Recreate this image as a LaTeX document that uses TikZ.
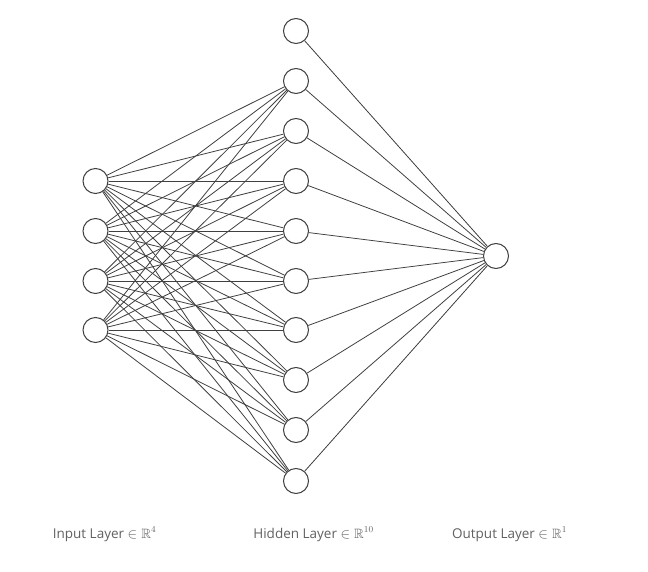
\documentclass[tikz,border=0pt]{standalone}
\usepackage{amssymb}
\usepackage{fontspec}
\setmainfont{Open Sans}
\begin{document}
\begin{tikzpicture}[x=1pt,y=-1pt,
  neuron/.style={circle,draw=black!75,line width=1pt,fill=white,minimum size=25pt,inner sep=0pt},
  conn/.style={draw=black!75,line width=0.8pt},
  lab/.style={text=black!62,font=\fontsize{13.5}{16}\selectfont,anchor=base}]
\useasboundingbox (0,0) rectangle (648,572);
\foreach \i/\y in {1/181,2/231,3/281,4/330}
  \node[neuron] (i\i) at (95.5,\y) {};
\foreach \j/\y in {1/31,2/81,3/131,4/181,5/231,6/281,7/330,8/380,9/430,10/481}
  \node[neuron] (h\j) at (296,\y) {};
\node[neuron] (o) at (496,256) {};
\foreach \i in {1,...,4}
  \foreach \j in {2,...,10}
    \draw[conn] (i\i) -- (h\j);
\foreach \j in {1,...,10}
  \draw[conn] (h\j) -- (o);
\node[lab] (l1) at (104.5,538) {Input Layer $\in\mathbb{R}^4$};
\node[lab] (l2) at (313.5,538) {Hidden Layer $\in\mathbb{R}^{10}$};
\node[lab] (l3) at (509.5,538) {Output Layer $\in\mathbb{R}^1$};
\end{tikzpicture}
\end{document}
